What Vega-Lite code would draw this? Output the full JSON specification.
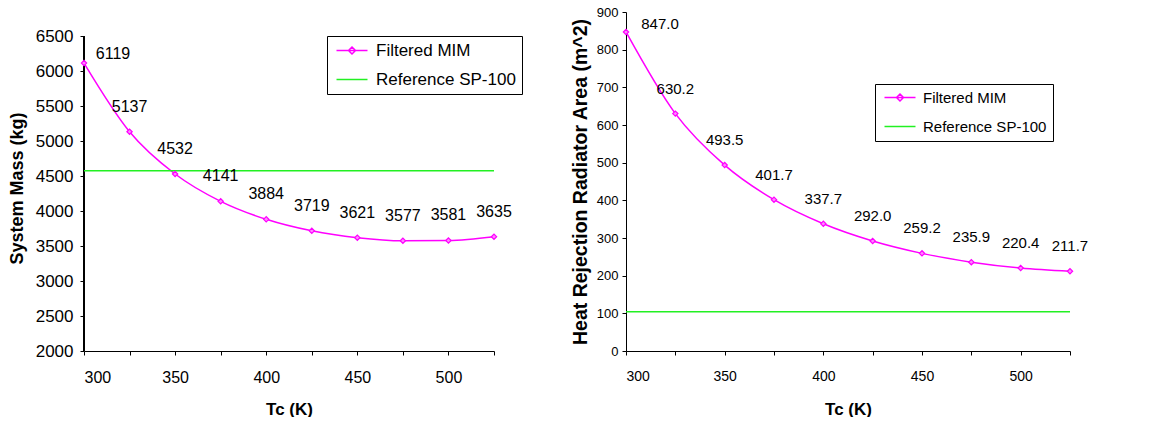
{
  "$schema": "https://vega.github.io/schema/vega-lite/v6.json",
  "background": "white",
  "padding": {"left": 8, "top": 6, "right": 0, "bottom": 0},
  "spacing": 47,
  "config": {
    "font": "Liberation Sans",
    "view": {"stroke": null},
    "axis": {"grid": false, "domainColor": "black", "tickColor": "black", "labelColor": "black", "titleColor": "black", "tickSize": 4, "titleFontWeight": "bold", "labelFont": "Liberation Sans", "titleFont": "Liberation Sans", "format": "d"}
  },
  "datasets": {
    "mass": [
      {"Tc": 300, "value": 6119, "series": "Filtered MIM"},
      {"Tc": 325, "value": 5137, "series": "Filtered MIM"},
      {"Tc": 350, "value": 4532, "series": "Filtered MIM"},
      {"Tc": 375, "value": 4141, "series": "Filtered MIM"},
      {"Tc": 400, "value": 3884, "series": "Filtered MIM"},
      {"Tc": 425, "value": 3719, "series": "Filtered MIM"},
      {"Tc": 450, "value": 3621, "series": "Filtered MIM"},
      {"Tc": 475, "value": 3577, "series": "Filtered MIM"},
      {"Tc": 500, "value": 3581, "series": "Filtered MIM"},
      {"Tc": 525, "value": 3635, "series": "Filtered MIM"},
      {"Tc": 300, "value": 4580, "series": "Reference SP-100"},
      {"Tc": 525, "value": 4580, "series": "Reference SP-100"}
    ],
    "area": [
      {"Tc": 300, "value": 847.0, "series": "Filtered MIM"},
      {"Tc": 325, "value": 630.2, "series": "Filtered MIM"},
      {"Tc": 350, "value": 493.5, "series": "Filtered MIM"},
      {"Tc": 375, "value": 401.7, "series": "Filtered MIM"},
      {"Tc": 400, "value": 337.7, "series": "Filtered MIM"},
      {"Tc": 425, "value": 292.0, "series": "Filtered MIM"},
      {"Tc": 450, "value": 259.2, "series": "Filtered MIM"},
      {"Tc": 475, "value": 235.9, "series": "Filtered MIM"},
      {"Tc": 500, "value": 220.4, "series": "Filtered MIM"},
      {"Tc": 525, "value": 211.7, "series": "Filtered MIM"},
      {"Tc": 300, "value": 104.5, "series": "Reference SP-100"},
      {"Tc": 525, "value": 104.5, "series": "Reference SP-100"}
    ]
  },
  "hconcat": [
    {
      "width": 410,
      "height": 339,
      "data": {"name": "mass"},
      "encoding": {
        "x": {"field": "Tc", "type": "quantitative", "scale": {"domain": [300, 525], "nice": false, "zero": false},
          "axis": {"values": [300, 325, 350, 375, 400, 425, 450, 475, 500, 525], "labelExpr": "datum.value % 50 == 0 ? datum.label : ''", "labelFontSize": 16, "labelPadding": 14, "title": "Tc (K)", "titleFontSize": 17, "titlePadding": 16}},
        "y": {"field": "value", "type": "quantitative", "scale": {"domain": [2000, 6850], "nice": false, "zero": false},
          "axis": {"values": [2000, 2500, 3000, 3500, 4000, 4500, 5000, 5500, 6000, 6500], "domain": false, "labelFontSize": 17, "labelPadding": 7, "title": "System Mass (kg)", "titleFontSize": 18, "titlePadding": 9, "titleY": 176}}
      },
      "layer": [
        {
          "mark": {"type": "rule", "color": "black", "strokeWidth": 1},
          "encoding": {"x": {"datum": 300}, "y": {"datum": 2000}, "y2": {"datum": 6500}, "color": null}
        },
        {
          "mark": {"type": "line", "interpolate": "monotone", "strokeWidth": 1.5},
          "encoding": {
            "color": {"field": "series", "type": "nominal",
              "scale": {"domain": ["Filtered MIM", "Reference SP-100"], "range": ["#FF00FF", "#22F022"]},
              "legend": {"title": null, "orient": "none", "legendX": 243, "legendY": 24, "strokeColor": "black", "fillColor": "white", "padding": 6, "labelFontSize": 17, "labelColor": "black", "labelFont": "Liberation Sans", "symbolSize": 100, "symbolStrokeWidth": 1.5, "rowPadding": 11, "symbolOffset": 10.5, "labelOffset": 15.5, "symbolType": "stroke",
                "encode": {"symbols": {"update": {"shape": {"signal": "datum.value == 'Filtered MIM' ? 'M-3.1,0H3.1M0,-0.7L0.7,0L0,0.7L-0.7,0Z' : 'M-3.1,0H3.1'"}}}}}
            }
          }
        },
        {
          "transform": [{"filter": "datum.series == 'Filtered MIM'"}],
          "mark": {"type": "point", "shape": "diamond", "size": 28, "filled": true, "fill": "#FF88FF", "stroke": "#FF00FF", "strokeWidth": 1.2, "opacity": 1}
        },
        {
          "transform": [{"filter": "datum.series == 'Filtered MIM' && datum.Tc != 300"}],
          "mark": {"type": "text", "dy": -25, "fontSize": 16, "color": "black"},
          "encoding": {"text": {"field": "value", "type": "quantitative", "format": "d"}}
        },
        {
          "transform": [{"filter": "datum.series == 'Filtered MIM' && datum.Tc == 300"}],
          "mark": {"type": "text", "dx": 29, "dy": -9, "fontSize": 16, "color": "black"},
          "encoding": {"text": {"field": "value", "type": "quantitative", "format": "d"}}
        }
      ]
    },
    {
      "width": 444,
      "height": 339,
      "data": {"name": "area"},
      "encoding": {
        "x": {"field": "Tc", "type": "quantitative", "scale": {"domain": [300, 525], "nice": false, "zero": false},
          "axis": {"values": [300, 325, 350, 375, 400, 425, 450, 475, 500, 525], "labelExpr": "datum.value % 50 == 0 ? datum.label : ''", "labelFontSize": 14, "labelPadding": 14, "title": "Tc (K)", "titleFontSize": 17, "titlePadding": 18}},
        "y": {"field": "value", "type": "quantitative", "scale": {"domain": [0, 900], "nice": false},
          "axis": {"values": [0, 100, 200, 300, 400, 500, 600, 700, 800, 900], "labelFontSize": 13, "labelPadding": 4, "title": "Heat Rejection Radiator Area (m^2)", "titleFontSize": 19.5, "titlePadding": 6}}
      },
      "layer": [
        {
          "mark": {"type": "line", "interpolate": "monotone", "strokeWidth": 1.5},
          "encoding": {
            "color": {"field": "series", "type": "nominal",
              "scale": {"domain": ["Filtered MIM", "Reference SP-100"], "range": ["#FF00FF", "#22F022"]},
              "legend": {"title": null, "orient": "none", "legendX": 249, "legendY": 72, "strokeColor": "black", "fillColor": "white", "padding": 6, "labelFontSize": 15, "labelColor": "black", "labelFont": "Liberation Sans", "symbolSize": 100, "symbolStrokeWidth": 1.5, "rowPadding": 13, "symbolOffset": 11.5, "labelOffset": 15.5, "symbolType": "stroke",
                "encode": {"symbols": {"update": {"shape": {"signal": "datum.value == 'Filtered MIM' ? 'M-3.1,0H3.1M0,-0.7L0.7,0L0,0.7L-0.7,0Z' : 'M-3.1,0H3.1'"}}}}}
            }
          }
        },
        {
          "transform": [{"filter": "datum.series == 'Filtered MIM'"}],
          "mark": {"type": "point", "shape": "diamond", "size": 28, "filled": true, "fill": "#FF88FF", "stroke": "#FF00FF", "strokeWidth": 1.2, "opacity": 1}
        },
        {
          "transform": [{"filter": "datum.series == 'Filtered MIM' && datum.Tc != 300"}],
          "mark": {"type": "text", "dy": -25, "fontSize": 15, "color": "black"},
          "encoding": {"text": {"field": "value", "type": "quantitative", "format": ".1f"}}
        },
        {
          "transform": [{"filter": "datum.series == 'Filtered MIM' && datum.Tc == 300"}],
          "mark": {"type": "text", "dx": 34, "dy": -8, "fontSize": 15, "color": "black"},
          "encoding": {"text": {"field": "value", "type": "quantitative", "format": ".1f"}}
        }
      ]
    }
  ],
  "resolve": {"scale": {"color": "independent", "x": "independent", "y": "independent"}}
}
